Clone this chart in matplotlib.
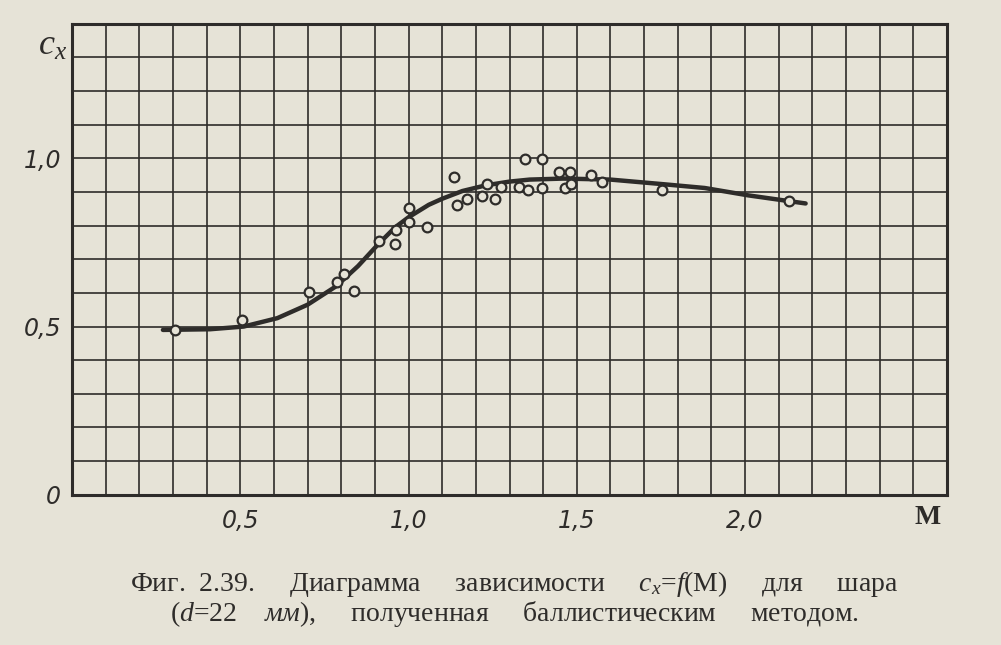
import numpy as np
import matplotlib.pyplot as plt

plt.rcParams['mathtext.fontset'] = 'custom'
plt.rcParams['mathtext.it'] = 'Liberation Serif:italic'
plt.rcParams['mathtext.rm'] = 'Liberation Serif'

# measured points (M, c_x)
mach_pts = [0.305, 0.506, 0.705, 0.786, 0.808, 0.838, 0.912, 0.961, 0.964,
            1.00, 1.00, 1.055, 1.135, 1.143, 1.173, 1.217, 1.232, 1.257,
            1.275, 1.329, 1.347, 1.356, 1.398, 1.398, 1.447, 1.465, 1.48,
            1.483, 1.541, 1.576, 1.754, 2.131]
cx_pts = [0.490, 0.520, 0.604, 0.632, 0.655, 0.607, 0.754, 0.744, 0.786,
          0.853, 0.810, 0.795, 0.944, 0.860, 0.879, 0.887, 0.923, 0.879,
          0.915, 0.915, 0.998, 0.906, 0.998, 0.913, 0.959, 0.913, 0.961,
          0.925, 0.950, 0.930, 0.906, 0.874]

# faired curve
mach_curve = [0.27, 0.41, 0.51, 0.61, 0.70, 0.785, 0.85, 0.91, 0.96, 1.00,
              1.06, 1.10, 1.16, 1.23, 1.30, 1.36, 1.46, 1.60, 1.76, 1.88,
              2.01, 2.18]
cx_curve = [0.490, 0.492, 0.500, 0.525, 0.565, 0.620, 0.680, 0.745, 0.795,
            0.825, 0.862, 0.880, 0.903, 0.920, 0.931, 0.937, 0.940, 0.937,
            0.923, 0.912, 0.890, 0.866]

x_ticks = [0.5, 1.0, 1.5, 2.0]
x_labels = ['0,5', '1,0', '1,5', '2,0']
y_ticks = [0.0, 0.5, 1.0]
y_labels = ['0', '0,5', '1,0']

paper = '#e6e3d7'
ink = '#2e2c2a'

fig = plt.figure(figsize=(10.01, 6.45), dpi=100, facecolor=paper)
ax = fig.add_axes([0.072, 0.233, 0.874, 0.730])
ax.set_facecolor(paper)

ax.set_xlim(0, 2.6)
ax.set_ylim(0, 1.4)
ax.set_xticks(np.arange(0, 2.61, 0.1), minor=True)
ax.set_yticks(np.arange(0, 1.41, 0.1), minor=True)
ax.grid(which='both', color=ink, linewidth=1.2)
ax.set_axisbelow(True)
ax.set_xticks(x_ticks)
ax.set_xticklabels(x_labels)
ax.set_yticks(y_ticks)
ax.set_yticklabels(y_labels)
ax.tick_params(which='both', length=0)
ax.tick_params(axis='x', pad=10)
ax.tick_params(axis='y', pad=8)
for lab in ax.get_xticklabels() + ax.get_yticklabels():
    lab.set_fontsize(17)
    lab.set_style('italic')
    lab.set_color(ink)
for s in ax.spines.values():
    s.set_color(ink)
    s.set_linewidth(2.2)

ax.plot(mach_curve, cx_curve, color=ink, linewidth=3.2, solid_capstyle='round', zorder=3)
ax.plot(mach_pts, cx_pts, linestyle='none', marker='o', markersize=7,
        markerfacecolor=paper, markeredgecolor=ink, markeredgewidth=1.6, zorder=4)

fig.text(0.052, 0.93, '$c_x$', fontsize=26, color=ink, ha='center', va='center')
fig.text(0.927, 0.197, 'M', fontsize=20, fontweight='bold', color=ink,
         ha='center', va='center', family='Liberation Serif')

fig.text(0.514, 0.095,
         'Фиг.  2.39.     Диаграмма     зависимости     $c_x$=$f$(M)     для     шара',
         fontsize=20, color=ink, ha='center', va='center', family='Liberation Serif')
fig.text(0.514, 0.048,
         '($d$=22    $мм$),     полученная     баллистическим     методом.',
         fontsize=20, color=ink, ha='center', va='center', family='Liberation Serif')

fig.savefig('out.png', dpi=100, facecolor=paper)
